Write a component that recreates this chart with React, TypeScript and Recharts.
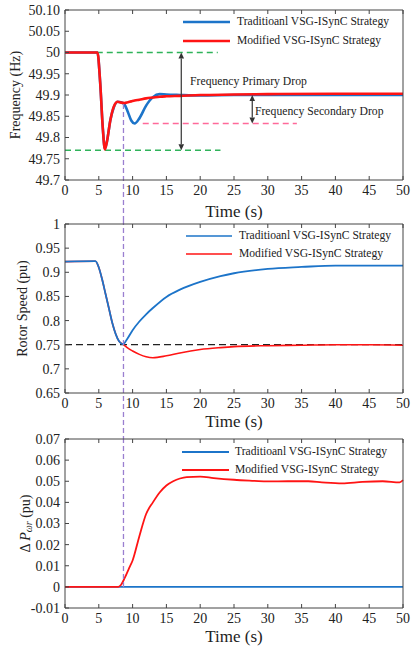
import React from 'react';
import { LineChart, Line, XAxis, YAxis, ReferenceLine, ReferenceDot, Legend } from 'recharts';

const FONT = '"Liberation Serif", "Times New Roman", "DejaVu Serif", serif';
const INK = '#222';
const FRAME = '#444';
const BLUE = '#1c74c9';
const RED = '#ff1414';
const PURPLE = '#9a7fd0';

const timeTicks = [0, 5, 10, 15, 20, 25, 30, 35, 40, 45, 50];
const seriesNames = ['Traditioanl VSG-ISynC Strategy', 'Modified VSG-ISynC Strategy'];

// frequency (Hz)
const freqTime = [0, 4.8, 5.2, 5.6, 5.9, 6.2, 6.7, 7.2, 7.8, 8.3, 8.8, 9.3, 9.8, 10.3, 11, 12, 13, 14, 15, 17, 20, 25, 30, 40, 50];
const freqTrad = [50.0, 50.0, 49.93, 49.82, 49.774, 49.79, 49.84, 49.87, 49.884, 49.883, 49.878, 49.86, 49.84, 49.833, 49.845, 49.875, 49.895, 49.902, 49.901, 49.9, 49.899, 49.9, 49.9, 49.9, 49.9];
const freqMod = [50.0, 50.0, 49.93, 49.82, 49.772, 49.79, 49.84, 49.872, 49.884, 49.882, 49.881, 49.883, 49.885, 49.887, 49.889, 49.892, 49.894, 49.896, 49.897, 49.898, 49.9, 49.901, 49.902, 49.903, 49.903];
const freqTicks = [49.7, 49.75, 49.8, 49.85, 49.9, 49.95, 50, 50.05, 50.1];
const freqTickLabels = ['49.7', '49.75', '49.8', '49.85', '49.9', '49.95', '50', '50.05', '50.10'];

// rotor speed (pu)
const speedTime = [0, 4.5, 5, 5.5, 6, 6.5, 7, 7.5, 8, 8.6, 9.2, 10, 11, 12, 13, 15, 17, 20, 23, 25, 30, 35, 40, 45, 50];
const speedTrad = [0.922, 0.923, 0.91, 0.885, 0.855, 0.825, 0.795, 0.772, 0.757, 0.751, 0.762, 0.78, 0.798, 0.813, 0.826, 0.849, 0.864, 0.88, 0.892, 0.898, 0.907, 0.911, 0.914, 0.914, 0.914];
const speedMod = [0.922, 0.923, 0.91, 0.885, 0.855, 0.825, 0.795, 0.772, 0.757, 0.751, 0.744, 0.737, 0.73, 0.725, 0.723, 0.727, 0.733, 0.74, 0.744, 0.746, 0.748, 0.749, 0.75, 0.75, 0.749];
const speedTicks = [0.65, 0.7, 0.75, 0.8, 0.85, 0.9, 0.95, 1];
const speedTickLabels = ['0.65', '0.7', '0.75', '0.8', '0.85', '0.9', '0.95', '1'];

// delta P (pu)
const powerTime = [0, 7.9, 8.3, 8.8, 9.5, 10, 11, 12, 13, 14, 15, 16, 17, 18, 20, 22, 25, 28, 30, 33, 36, 38, 41, 44, 47, 49.5, 50];
const powerTrad = [0, 0, 0, 0, 0, 0, 0, 0, 0, 0, 0, 0, 0, 0, 0, 0, 0, 0, 0, 0, 0, 0, 0, 0, 0, 0, 0];
const powerMod = [0, 0, 0.001, 0.004, 0.009, 0.0125, 0.024, 0.0345, 0.04, 0.0447, 0.048, 0.05, 0.0513, 0.052, 0.0522, 0.0515, 0.0507, 0.0502, 0.0499, 0.05, 0.05, 0.0495, 0.049, 0.0497, 0.05, 0.0495, 0.0505];
const powerTicks = [-0.01, 0, 0.01, 0.02, 0.03, 0.04, 0.05, 0.06, 0.07];
const powerTickLabels = ['-0.01', '0', '0.01', '0.02', '0.03', '0.04', '0.05', '0.06', '0.07'];

const freqData = freqTime.map((t, i) => ({ t, trad: freqTrad[i], mod: freqMod[i] }));
const speedData = speedTime.map((t, i) => ({ t, trad: speedTrad[i], mod: speedMod[i] }));
const powerData = powerTime.map((t, i) => ({ t, trad: powerTrad[i], mod: powerMod[i] }));

const tickStyle = { fontFamily: FONT, fontSize: 14, fill: INK };

const fmt = (ticks: number[], labels: string[]) => (v: number) => {
  const i = ticks.findIndex((k) => Math.abs(k - v) < 1e-9);
  return i >= 0 ? labels[i] : String(v);
};

// box frame: bottom/left axes with labels, top/right axes with ticks only (all ticks inward)
const frame = (domain: number[], ticks: number[], labels: string[], label: any, xHeight: number, xOffset: number) => [
  <XAxis key="xb" dataKey="t" type="number" domain={[0, 50]} ticks={timeTicks} height={xHeight} interval={0}
    axisLine={{ stroke: FRAME }} tickLine={{ stroke: FRAME }} tickSize={-4} tickMargin={9} tick={tickStyle}
    label={{ value: 'Time (s)', position: 'insideBottom', offset: xOffset, style: { fontFamily: FONT, fontSize: 17, fill: INK } }} />,
  <XAxis key="xt" xAxisId="top" orientation="top" dataKey="t" type="number" domain={[0, 50]} ticks={timeTicks} height={1} interval={0}
    axisLine={{ stroke: FRAME }} tickLine={{ stroke: FRAME }} tickSize={-4} tickFormatter={() => ''} />,
  <YAxis key="yl" type="number" domain={domain} ticks={ticks} width={65} interval={0}
    axisLine={{ stroke: FRAME }} tickLine={{ stroke: FRAME }} tickSize={-4} tickMargin={9} tick={tickStyle}
    tickFormatter={fmt(ticks, labels)} label={label} />,
  <YAxis key="yr" yAxisId="right" orientation="right" type="number" domain={domain} ticks={ticks} width={1} interval={0}
    axisLine={{ stroke: FRAME }} tickLine={{ stroke: FRAME }} tickSize={-4} tickFormatter={() => ''} />,
];

const yLabel = (text: React.ReactNode, cx: number) => (props: any) => {
  const vb = props.viewBox || { y: 0, height: 0 };
  const cy = vb.y + vb.height / 2;
  return (
    <text x={cx} y={cy} transform={`rotate(-90 ${cx} ${cy})`} textAnchor="middle" dominantBaseline="central"
      fontFamily={FONT} fontSize={14} fill={INK}>
      {text}
    </text>
  );
};

const legend = (top: number, left: number, lineW: number, gap: number, rowH: number, sw: number) => (
  <Legend layout="vertical" align="center" verticalAlign="middle"
    wrapperStyle={{ top, left, width: 'auto', height: 'auto' }}
    content={() => (
      <div style={{ fontFamily: FONT, fontSize: 11.6, color: INK, lineHeight: 1 }}>
        {seriesNames.map((name, i) => (
          <div key={name} style={{ display: 'flex', alignItems: 'center', height: rowH }}>
            <svg width={lineW} height={6}>
              <line x1={0} y1={3} x2={lineW} y2={3} stroke={i === 0 ? BLUE : RED} strokeWidth={sw} />
            </svg>
            <span style={{ marginLeft: gap, whiteSpace: 'nowrap' }}>{name}</span>
          </div>
        ))}
      </div>
    )} />
);

const Arrow = (p: any) => {
  const { x1, y1, x2, y2 } = p;
  const top = Math.min(y1, y2);
  const bot = Math.max(y1, y2);
  const h = 6, w = 2.8;
  return (
    <g>
      <line x1={x1} y1={top + h} x2={x2} y2={bot - h} stroke="#333" strokeWidth={1.2} />
      <path d={`M${x1},${top} L${x1 - w},${top + h} L${x1 + w},${top + h} Z`} fill="#333" />
      <path d={`M${x2},${bot} L${x2 - w},${bot - h} L${x2 + w},${bot - h} Z`} fill="#333" />
    </g>
  );
};

const note = (text: string) => (p: any) => (
  <text x={p.cx} y={p.cy} dominantBaseline="central" fontFamily={FONT} fontSize={11.7} fill={INK}>{text}</text>
);

const purple = { stroke: PURPLE, strokeWidth: 1.3, strokeDasharray: '5 3', ifOverflow: 'visible' as const };

export default function App() {
  return (
    <div style={{ position: 'absolute', left: 0, top: 0, width: 411, height: 654, background: '#fff' }}>
      <div style={{ position: 'absolute', left: 0, top: 0 }}>
        <LineChart width={411} height={220} data={freqData} margin={{ top: 9, right: 7, bottom: 0, left: 0 }}>
          {frame([49.7, 50.1], freqTicks, freqTickLabels, yLabel('Frequency (Hz)', 15), 40, 3.3)}
          <ReferenceLine segment={[{ x: 4.7, y: 50 }, { x: 22.6, y: 50 }]} stroke="#2fb35a" strokeWidth={1.5} strokeDasharray="6 4" />
          <ReferenceLine segment={[{ x: 0, y: 49.77 }, { x: 23, y: 49.77 }]} stroke="#2fb35a" strokeWidth={1.5} strokeDasharray="6 4" />
          <ReferenceLine segment={[{ x: 11.5, y: 49.833 }, { x: 34.3, y: 49.833 }]} stroke="#ff6a9a" strokeWidth={1.3} strokeDasharray="6 4" />
          <Line dataKey="trad" name={seriesNames[0]} type="monotone" stroke={BLUE} strokeWidth={2.6} dot={false} isAnimationActive={false} />
          <Line dataKey="mod" name={seriesNames[1]} type="monotone" stroke={RED} strokeWidth={2.6} dot={false} isAnimationActive={false} />
          <ReferenceLine segment={[{ x: 17.2, y: 50 }, { x: 17.2, y: 49.77 }]} shape={Arrow} />
          <ReferenceLine segment={[{ x: 27.7, y: 49.9 }, { x: 27.7, y: 49.833 }]} shape={Arrow} />
          <ReferenceDot x={18.5} y={49.932} r={0} shape={note('Frequency Primary Drop')} />
          <ReferenceDot x={28.1} y={49.861} r={0} shape={note('Frequency Secondary Drop')} />
          <ReferenceLine segment={[{ x: 8.65, y: 49.879 }, { x: 8.65, y: 49.606 }]} {...purple} />
          {legend(12.5, 183, 47, 7, 19, 2.6)}
        </LineChart>
      </div>
      <div style={{ position: 'absolute', left: 0, top: 210 }}>
        <LineChart width={411} height={228} data={speedData} margin={{ top: 13, right: 7, bottom: 0, left: 0 }}>
          {frame([0.65, 1], speedTicks, speedTickLabels, yLabel('Rotor Speed (pu)', 22), 45, 11.3)}
          <ReferenceLine y={0.75} stroke="#222" strokeWidth={1.2} strokeDasharray="7 4" />
          <Line dataKey="mod" name={seriesNames[1]} type="monotone" stroke={RED} strokeWidth={1.6} dot={false} isAnimationActive={false} />
          <Line dataKey="trad" name={seriesNames[0]} type="monotone" stroke={BLUE} strokeWidth={1.8} dot={false} isAnimationActive={false} />
          <ReferenceLine segment={[{ x: 8.65, y: 1.0083 }, { x: 8.65, y: 0.5568 }]} {...purple} />
          {legend(16.4, 186, 46, 7, 18.6, 1.6)}
        </LineChart>
      </div>
      <div style={{ position: 'absolute', left: 0, top: 426 }}>
        <LineChart width={411} height={228} data={powerData} margin={{ top: 12, right: 7, bottom: 0, left: 0 }}>
          {frame([-0.01, 0.07], powerTicks, powerTickLabels,
            yLabel(<>
              <tspan>Δ </tspan>
              <tspan fontStyle="italic">P</tspan>
              <tspan fontStyle="italic" fontSize={10} dy={3}>ωr</tspan>
              <tspan dy={-3}> (pu)</tspan>
            </>, 25), 46, 12.3)}
          <Line dataKey="trad" name={seriesNames[0]} type="monotone" stroke={BLUE} strokeWidth={1.8} dot={false} isAnimationActive={false} />
          <Line dataKey="mod" name={seriesNames[1]} type="monotone" stroke={RED} strokeWidth={1.8} dot={false} isAnimationActive={false} />
          <ReferenceLine segment={[{ x: 8.65, y: 0.0705 }, { x: 8.65, y: 0 }]} {...purple} />
          {legend(16.5, 182, 47, 6, 18.5, 1.8)}
        </LineChart>
      </div>
    </div>
  );
}
